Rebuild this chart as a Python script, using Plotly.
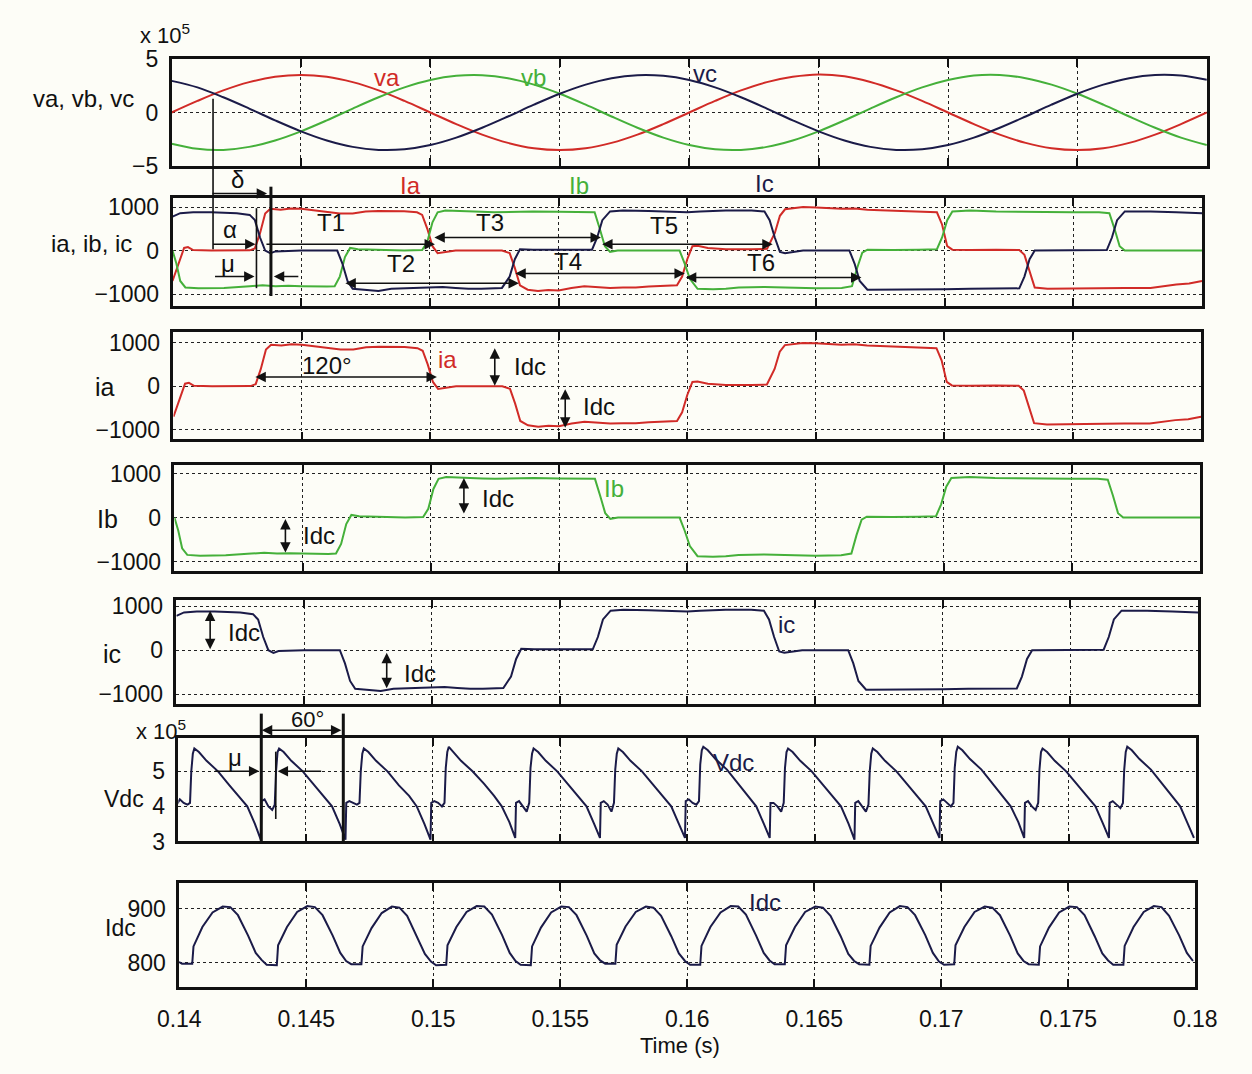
import plotly.graph_objects as go

W, H = 1252, 1074

# ---------------- data ----------------
# phase voltages (x 10^5 V), one sample per ms from 0.140 s to 0.180 s
T_V = [0.140, 0.141, 0.142, 0.143, 0.144, 0.145, 0.146, 0.147, 0.148, 0.149,
       0.150, 0.151, 0.152, 0.153, 0.154, 0.155, 0.156, 0.157, 0.158, 0.159,
       0.160, 0.161, 0.162, 0.163, 0.164, 0.165, 0.166, 0.167, 0.168, 0.169,
       0.170, 0.171, 0.172, 0.173, 0.174, 0.175, 0.176, 0.177, 0.178, 0.179, 0.180]
VA = [0.0, 1.08, 2.06, 2.83, 3.33, 3.5, 3.33, 2.83, 2.06, 1.08,
      0.0, -1.08, -2.06, -2.83, -3.33, -3.5, -3.33, -2.83, -2.06, -1.08,
      0.0, 1.08, 2.06, 2.83, 3.33, 3.55, 3.38, 2.85, 2.06, 1.08,
      0.0, -1.08, -2.06, -2.83, -3.33, -3.5, -3.33, -2.83, -2.06, -1.08, 0.0]
VB = [-2.9, -3.38, -3.48, -3.2, -2.6, -1.75, -0.73, 0.37, 1.42, 2.34,
      3.03, 3.42, 3.48, 3.2, 2.6, 1.75, 0.73, -0.37, -1.42, -2.34,
      -3.03, -3.42, -3.48, -3.2, -2.6, -1.75, -0.73, 0.37, 1.42, 2.34,
      3.03, 3.45, 3.5, 3.2, 2.6, 1.75, 0.73, -0.37, -1.42, -2.34, -3.03]
VC = [2.95, 2.34, 1.42, 0.37, -0.73, -1.75, -2.6, -3.2, -3.48, -3.42,
      -3.03, -2.34, -1.42, -0.37, 0.73, 1.75, 2.6, 3.2, 3.48, 3.42,
      3.03, 2.34, 1.42, 0.37, -0.73, -1.75, -2.6, -3.2, -3.48, -3.42,
      -3.03, -2.34, -1.42, -0.37, 0.73, 1.75, 2.6, 3.2, 3.5, 3.45, 3.05]

# phase currents (A)
T_IA = [0.1400, 0.14025, 0.14045, 0.1406, 0.1408, 0.1415, 0.1425, 0.1430, 0.1432, 0.1434,
        0.1436, 0.1438, 0.1442, 0.1446, 0.1450, 0.1455, 0.1460, 0.1465, 0.1470, 0.1475,
        0.1480, 0.1485, 0.1490, 0.1495, 0.1497, 0.1499, 0.1501, 0.1503, 0.1506, 0.1510,
        0.1520, 0.1528, 0.1531, 0.1533, 0.1535, 0.1538, 0.1542, 0.1546, 0.1550, 0.1555,
        0.1560, 0.1565, 0.1570, 0.1575, 0.1580, 0.1585, 0.1590, 0.1596, 0.1598, 0.1600,
        0.1602, 0.1604, 0.1608, 0.1615, 0.1625, 0.1631, 0.1634, 0.1636, 0.1638, 0.1645,
        0.1650, 0.1655, 0.1660, 0.1665, 0.1670, 0.1675, 0.1680, 0.1690, 0.1697, 0.1699,
        0.1701, 0.1703, 0.1710, 0.1720, 0.1729, 0.1731, 0.1733, 0.1735, 0.1740, 0.1750,
        0.1760, 0.1770, 0.1780, 0.1790, 0.1795, 0.1800]
IA = [-700, -300, 60, 80, 10, 0, 0, 5, 50, 400,
      850, 960, 940, 970, 960, 920, 880, 850, 850, 900,
      910, 910, 905, 880, 820, 500, 100, -60, -30, 0,
      0, 0, -60, -400, -800, -900, -930, -910, -920, -860,
      -820, -840, -860, -850, -850, -830, -810, -800, -600, -200,
      100, 110, 60, 30, 30, 40, 400, 800, 950, 1000,
      990, 980, 960, 970, 940, 930, 920, 900, 880, 600,
      100, 20, 10, 20, 10, -100, -500, -850, -880, -870,
      -860, -860, -860, -780, -760, -700]

T_IB = [0.1400, 0.14015, 0.1403, 0.1405, 0.1410, 0.1420, 0.1430, 0.1435, 0.1440, 0.1445,
        0.1450, 0.1455, 0.1460, 0.1463, 0.1465, 0.1467, 0.1469, 0.1472, 0.1480, 0.1490,
        0.1497, 0.1499, 0.1501, 0.1503, 0.1506, 0.1515, 0.1520, 0.1525, 0.1530, 0.1535,
        0.1540, 0.1550, 0.1560, 0.1564, 0.1566, 0.1568, 0.1570, 0.1573, 0.1585, 0.1597,
        0.1599, 0.1601, 0.1604, 0.1610, 0.1615, 0.1620, 0.1630, 0.1640, 0.1650, 0.1660,
        0.1664, 0.1666, 0.1668, 0.1670, 0.1680, 0.1690, 0.1697, 0.1699, 0.1701, 0.1703,
        0.1710, 0.1720, 0.1730, 0.1740, 0.1750, 0.1760, 0.1764, 0.1766, 0.1768, 0.1770,
        0.1780, 0.1800]
IB = [0, -300, -700, -850, -870, -860, -820, -800, -820, -810,
      -820, -830, -830, -820, -600, -150, 60, 30, 10, 0,
      10, 200, 650, 880, 920, 910, 890, 880, 890, 900,
      900, 890, 890, 880, 500, 100, -30, 0, 0, 0,
      -300, -650, -880, -890, -880, -850, -840, -860, -870, -860,
      -820, -400, -50, 20, 10, 20, 30, 300, 700, 900,
      920, 900, 890, 880, 880, 880, 860, 500, 100, 0,
      0, 0]

T_IC = [0.1400, 0.1403, 0.1408, 0.1415, 0.1425, 0.1430, 0.1432, 0.1434, 0.1436, 0.1438,
        0.1440, 0.1450, 0.1460, 0.1464, 0.1466, 0.1468, 0.1470, 0.1475, 0.1480, 0.1485,
        0.1490, 0.1500, 0.1505, 0.1510, 0.1515, 0.1520, 0.1528, 0.1531, 0.1533, 0.1535,
        0.1540, 0.1550, 0.1560, 0.1563, 0.1565, 0.1567, 0.1570, 0.1575, 0.1585, 0.1595,
        0.1600, 0.1605, 0.1615, 0.1625, 0.1630, 0.1632, 0.1634, 0.1636, 0.1638, 0.1645,
        0.1655, 0.1663, 0.1665, 0.1667, 0.1670, 0.1680, 0.1690, 0.1700, 0.1710, 0.1720,
        0.1729, 0.1731, 0.1733, 0.1735, 0.1745, 0.1755, 0.1763, 0.1765, 0.1767, 0.1770,
        0.1780, 0.1790, 0.1800]
IC = [780, 860, 880, 880, 860, 820, 700, 300, 0, -60,
      -20, 0, 0, 0, -300, -700, -880, -900, -930, -880,
      -870, -850, -840, -860, -880, -880, -860, -600, -200, 30,
      20, 20, 20, 20, 300, 700, 900, 920, 910, 900,
      880, 900, 920, 920, 900, 700, 300, -30, -60, 0,
      0, 0, -300, -700, -900, -900, -890, -890, -880, -880,
      -870, -600, -200, 0, 0, 0, 10, 300, 700, 900,
      900, 880, 860]

# DC-side ripple: start time of each 60-degree interval and the waveform inside it
PULSE_T0 = [0.13991, 0.14324, 0.14657, 0.14991, 0.15324, 0.15657,
            0.15991, 0.16324, 0.16657, 0.16991, 0.17324, 0.17657]
VDC_DT = [0, 0.00003, 0.00015, 0.0003, 0.00045, 0.00055, 0.0006, 0.00066,
          0.00072, 0.0009, 0.0012, 0.00165, 0.0021, 0.0025, 0.0028, 0.0031]
VDC_PULSES = [  # x 10^5 V
    [3.10, 4.05, 4.20, 4.10, 4.05, 4.10, 5.00, 5.50, 5.65, 5.55, 5.30, 5.00, 4.60, 4.25, 4.00, 3.50],
    [3.05, 4.15, 4.20, 4.00, 3.90, 4.05, 5.00, 5.55, 5.65, 5.55, 5.30, 5.00, 4.60, 4.25, 4.00, 3.50],
    [3.05, 4.10, 4.15, 4.10, 4.05, 4.10, 5.00, 5.50, 5.65, 5.55, 5.30, 5.00, 4.60, 4.30, 4.00, 3.50],
    [3.05, 4.10, 4.15, 4.10, 4.00, 4.10, 5.10, 5.55, 5.70, 5.55, 5.30, 5.00, 4.65, 4.30, 4.00, 3.55],
    [3.10, 4.10, 4.15, 4.00, 3.85, 4.10, 5.10, 5.50, 5.65, 5.55, 5.30, 5.00, 4.60, 4.25, 4.00, 3.50],
    [3.10, 4.10, 4.15, 4.05, 3.85, 4.10, 5.05, 5.50, 5.65, 5.55, 5.30, 5.00, 4.60, 4.25, 4.00, 3.50],
    [3.10, 4.15, 4.20, 4.10, 4.05, 4.15, 5.20, 5.60, 5.70, 5.60, 5.35, 5.05, 4.65, 4.30, 4.00, 3.50],
    [3.10, 4.10, 4.10, 4.00, 3.85, 4.10, 5.10, 5.55, 5.65, 5.55, 5.30, 5.00, 4.60, 4.25, 4.00, 3.50],
    [3.05, 4.10, 4.15, 4.00, 3.85, 4.05, 5.00, 5.50, 5.65, 5.55, 5.30, 5.00, 4.60, 4.25, 4.00, 3.50],
    [3.10, 4.15, 4.20, 4.10, 4.00, 4.10, 5.10, 5.55, 5.70, 5.60, 5.35, 5.05, 4.65, 4.30, 4.00, 3.55],
    [3.10, 4.10, 4.15, 4.00, 3.90, 4.10, 5.05, 5.55, 5.65, 5.55, 5.30, 5.00, 4.60, 4.25, 4.00, 3.50],
    [3.10, 4.10, 4.15, 4.05, 3.95, 4.10, 5.05, 5.55, 5.70, 5.60, 5.35, 5.05, 4.65, 4.30, 4.00, 3.50],
]
VDC_END_T, VDC_END = 0.17991, 3.10

IDC_DT = [0, 0.0002, 0.0006, 0.00065, 0.0010, 0.0014, 0.0018, 0.0021, 0.0024, 0.0028, 0.0031]
IDC_PULSES = [  # A
    [803, 798, 798, 830, 866, 893, 904, 903, 888, 850, 818],
    [805, 796, 795, 832, 866, 894, 905, 903, 888, 850, 818],
    [803, 797, 797, 830, 864, 892, 904, 902, 887, 848, 816],
    [802, 795, 796, 832, 866, 894, 905, 904, 889, 851, 818],
    [803, 796, 795, 830, 865, 893, 904, 903, 888, 850, 817],
    [804, 798, 798, 833, 867, 894, 904, 902, 887, 849, 817],
    [803, 796, 796, 831, 866, 893, 905, 904, 889, 850, 818],
    [804, 797, 797, 832, 866, 894, 904, 902, 887, 849, 816],
    [803, 797, 796, 831, 865, 893, 905, 903, 888, 851, 818],
    [802, 796, 797, 832, 866, 894, 904, 902, 888, 850, 817],
    [803, 797, 796, 830, 865, 893, 904, 903, 888, 849, 817],
    [804, 796, 796, 831, 866, 894, 905, 903, 887, 850, 818],
]
IDC_END_T, IDC_END = 0.17991, 803

X_TICKS = [0.14, 0.145, 0.15, 0.155, 0.16, 0.165, 0.17, 0.175, 0.18]
X_TICKTEXT = ["0.14", "0.145", "0.15", "0.155", "0.16", "0.165", "0.17", "0.175", "0.18"]

# ---------------- styling ----------------
RED, GREEN, NAVY, INK = "#d12b27", "#45b03a", "#1b1b48", "#111111"
FONT = "Liberation Sans, Arial, sans-serif"
BG = "#fdfdf7"
TICK_SIZE = 23
TEXT_SIZE = 24

# panel boxes in page pixels: left, right, top, bottom
PANELS = [
    (155, 1228, 47, 157),
    (156, 1223, 190, 300),
    (157, 1222, 327, 437),
    (158, 1221, 463, 572),
    (160, 1219, 602, 708),
    (162, 1217, 743, 849),
    (163, 1216, 892, 998),
]
Y_RANGES = [(-5, 5), (-1270, 1200), (-1225, 1250), (-1220, 1200), (-1222, 1133), (3.0, 5.95), (755, 947)]
Y_TICKS = [[-5, 0, 5], [-1000, 0, 1000], [-1000, 0, 1000], [-1000, 0, 1000],
           [-1000, 0, 1000], [3, 4, 5], [800, 900]]


def X(px):
    return px / W


def Y(py):
    return 1 - py / H


# build the DC waveforms from the per-interval tables
vdc_t, vdc_v = [], []
for t0, row in zip(PULSE_T0, VDC_PULSES):
    vdc_t += [t0 + d for d in VDC_DT]
    vdc_v += row
vdc_t.append(VDC_END_T)
vdc_v.append(VDC_END)

idc_t, idc_v = [], []
for t0, row in zip(PULSE_T0, IDC_PULSES):
    idc_t += [t0 + d for d in IDC_DT]
    idc_v += row
idc_t.append(IDC_END_T)
idc_v.append(IDC_END)

fig = go.Figure()


def add(x, y, color, panel, shape="linear"):
    ax = "" if panel == 1 else str(panel)
    fig.add_trace(go.Scatter(x=x, y=y, mode="lines", xaxis="x" + ax, yaxis="y" + ax,
                             line=dict(color=color, width=2, shape=shape),
                             showlegend=False, hoverinfo="skip"))


add(T_V, VA, RED, 1, "spline")
add(T_V, VB, GREEN, 1, "spline")
add(T_V, VC, NAVY, 1, "spline")
add(T_IA, IA, RED, 2)
add(T_IB, IB, GREEN, 2)
add(T_IC, IC, NAVY, 2)
add(T_IA, IA, RED, 3)
add(T_IB, IB, GREEN, 4)
add(T_IC, IC, NAVY, 5)
add(vdc_t, vdc_v, NAVY, 6)
add(idc_t, idc_v, NAVY, 7)

layout = dict(
    width=W, height=H, margin=dict(l=0, r=0, t=0, b=0),
    paper_bgcolor=BG, plot_bgcolor=BG,
    font=dict(family=FONT, color=INK, size=TICK_SIZE),
    showlegend=False,
)
for i, ((l, r, t, b), yr, yt) in enumerate(zip(PANELS, Y_RANGES, Y_TICKS), start=1):
    s = "" if i == 1 else str(i)
    last = i == len(PANELS)
    layout["xaxis" + s] = dict(
        domain=[X(l), X(r)], anchor="y" + s, range=[0.14, 0.18],
        tickvals=X_TICKS, ticktext=X_TICKTEXT, showticklabels=last,
        ticks="inside", ticklen=8, tickwidth=2, tickcolor=INK,
        showline=True, linecolor=INK, linewidth=2.5, mirror="allticks",
        showgrid=True, gridcolor="#222222", griddash="dot", gridwidth=1.4,
        zeroline=False, ticklabelstandoff=10,
        tickfont=dict(size=TICK_SIZE, family=FONT, color=INK),
    )
    layout["yaxis" + s] = dict(
        domain=[Y(b), Y(t)], anchor="x" + s, range=list(yr), tickvals=yt,
        ticks="", showline=True, linecolor=INK, linewidth=2.5, mirror=True,
        showgrid=True, gridcolor="#222222", griddash="dot", gridwidth=1.4,
        zeroline=False, ticklabelstandoff=6,
        tickfont=dict(size=TICK_SIZE, family=FONT, color=INK),
    )
fig.update_layout(**layout)

annotations, shapes = [], []


def label(text, px, py, color=INK, size=TEXT_SIZE, anchor="center"):
    annotations.append(dict(text=text, x=X(px), y=Y(py), xref="paper", yref="paper",
                            showarrow=False, xanchor=anchor, yanchor="middle",
                            font=dict(size=size, color=color, family=FONT)))


def arrow(x0, y0, x1, y1, both=False, width=1.6):
    annotations.append(dict(text="", x=X(x1), y=Y(y1), xref="paper", yref="paper",
                            ax=x0 - x1, ay=y0 - y1, axref="pixel", ayref="pixel",
                            showarrow=True, arrowhead=2, startarrowhead=2,
                            arrowsize=1.3, startarrowsize=1.3, arrowwidth=width,
                            arrowcolor=INK, arrowside="end+start" if both else "end",
                            standoff=0, startstandoff=0))


def line(x0, y0, x1, y1, width=1.6):
    shapes.append(dict(type="line", xref="paper", yref="paper",
                       x0=X(x0), y0=Y(y0), x1=X(x1), y1=Y(y1),
                       line=dict(color=INK, width=width)))


# axis captions (right-aligned beside the tick labels) and scale factors
label("va, vb, vc", 118, 88, size=24, anchor="right")
label("ia, ib, ic", 116, 236, size=24, anchor="right")
label("ia", 98, 383, size=25, anchor="right")
label("Ib", 102, 519, size=25, anchor="right")
label("ic", 105, 657, size=25, anchor="right")
label("Vdc", 128, 805, size=23, anchor="right")
label("Idc", 120, 938, size=23, anchor="right")
label("x 10<sup>5</sup>", 148, 22, size=22)
label("x 10<sup>5</sup>", 144, 735, size=22)
label("Time (s)", 682, 1058, size=22)

# waveform names
label("va", 378, 66, RED)
label("vb", 530, 66, GREEN)
label("vc", 708, 62, NAVY)
label("Ia", 403, 177, RED)
label("Ib", 577, 177, GREEN)
label("Ic", 770, 175, NAVY)
label("ia", 441, 355, RED)
label("Ib", 614, 487, GREEN)
label("ic", 792, 627, NAVY)
label("Vdc", 737, 768, NAVY)
label("Idc", 770, 912, NAVY)

# firing / overlap / extinction angle markers
line(198, 88, 198, 242)
arrow(198, 185, 254, 185)
label("δ", 223, 171)
line(258, 178, 258, 290, width=3)
line(243, 200, 243, 282)
arrow(198, 237, 242, 237)
label("α", 216, 222)
arrow(200, 270, 241, 270)
arrow(287, 270, 261, 270)
label("μ", 213, 257)

# valve conduction intervals
arrow(258, 237, 428, 237)
label("T1", 320, 215)
arrow(432, 230, 600, 230, both=True)
label("T3", 485, 215)
arrow(606, 237, 778, 237, both=True)
label("T5", 665, 218)
arrow(340, 277, 515, 277, both=True)
label("T2", 393, 257)
arrow(516, 267, 687, 267, both=True)
label("T4", 566, 255)
arrow(693, 271, 870, 271, both=True)
label("T6", 766, 256)

# 120 degree conduction and Idc magnitudes
arrow(247, 373, 430, 373, both=True)
label("120°", 316, 361)
arrow(490, 343, 490, 382, both=True)
label("Idc", 527, 362)
arrow(563, 385, 563, 425, both=True)
label("Idc", 598, 403)
arrow(273, 518, 273, 553, both=True)
label("Idc", 308, 535)
arrow(458, 476, 458, 513, both=True)
label("Idc", 493, 498)
arrow(195, 612, 195, 652, both=True)
label("Idc", 230, 635)
arrow(378, 655, 378, 692, both=True)
label("Idc", 413, 677)

# 60 degree interval and overlap on the DC voltage
line(248, 718, 248, 849, width=3)
line(333, 718, 333, 849, width=3)
arrow(250, 735, 331, 735, both=True)
label("60°", 296, 724, size=22)
line(263, 757, 263, 826)
arrow(200, 777, 246, 777)
arrow(310, 777, 265, 777)
label("μ", 221, 763)

fig.update_layout(annotations=annotations, shapes=shapes)
fig.write_html("out.html")
